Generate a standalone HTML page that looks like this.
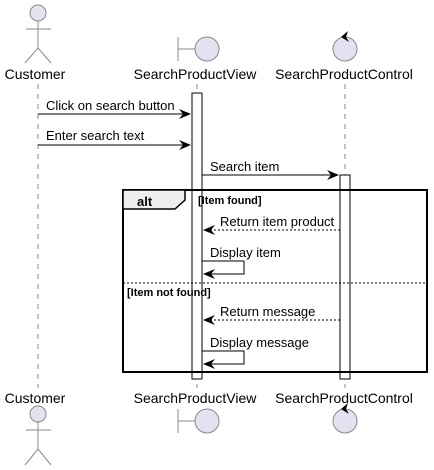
<!DOCTYPE html>
<html><head><meta charset="utf-8"><style>body{margin:0;background:#fff}svg{display:block}text{font-family:"Liberation Sans",sans-serif}</style></head><body>
<svg width="434" height="470" viewBox="0 0 434 470" xmlns="http://www.w3.org/2000/svg">
<g stroke="#888" stroke-width="1" stroke-dasharray="5,5">
<line x1="38" y1="84" x2="38" y2="388"/>
<line x1="197" y1="84" x2="197" y2="388"/>
<line x1="345" y1="84" x2="345" y2="388"/>
</g>
<!-- top participants -->
<g fill="#E2E2F0" stroke="#888" stroke-width="1">
<circle cx="38" cy="13" r="8"/>
<line x1="38" y1="21" x2="38" y2="48"/><line x1="26" y1="29" x2="51" y2="29"/>
<polyline points="25,63 38,48 51,63" fill="none"/>
<line x1="178" y1="37" x2="178" y2="61"/><line x1="178" y1="49" x2="195" y2="49"/>
<circle cx="207" cy="49" r="12"/>
<circle cx="345" cy="49" r="12"/>
<circle cx="38" cy="414" r="8"/>
<line x1="38" y1="422" x2="38" y2="449"/><line x1="26" y1="430" x2="51" y2="430"/>
<polyline points="25,465 38,449 51,465" fill="none"/>
<line x1="178" y1="409" x2="178" y2="433"/><line x1="178" y1="421" x2="195" y2="421"/>
<circle cx="207" cy="421" r="12"/>
<circle cx="345" cy="421" r="12"/>
</g>
<polygon points="341,37 348,31 346,37 349,42" fill="#000"/>
<polygon points="341,409 348,403 346,409 349,414" fill="#000"/>
<g font-size="14" fill="#000" text-anchor="middle">
<text x="35" y="79">Customer</text><text x="195" y="79">SearchProductView</text><text x="344" y="79">SearchProductControl</text>
<text x="35" y="403">Customer</text><text x="195" y="403">SearchProductView</text><text x="344" y="403">SearchProductControl</text>
</g>
<!-- activations -->
<rect x="192" y="93" width="10" height="286" fill="#fff" stroke="#000"/>
<rect x="340" y="175" width="10" height="204" fill="#fff" stroke="#000"/>
<!-- alt -->
<rect x="123" y="190" width="304" height="182" fill="none" stroke="#000" stroke-width="2"/>
<polygon points="123,190 185,190 185,200 175,209 123,209" fill="#EEE" stroke="#000" stroke-width="1.5"/>
<text x="137" y="206" font-size="13" font-weight="bold">alt</text>
<text x="198" y="204" font-size="11" font-weight="bold">[Item found]</text>
<line x1="123" y1="283" x2="427" y2="283" stroke="#000" stroke-dasharray="2,2"/>
<text x="127" y="296" font-size="11" font-weight="bold">[Item not found]</text>
<!-- messages -->
<g stroke="#000" fill="none">
<line x1="38" y1="114" x2="190" y2="114"/>
<line x1="38" y1="145" x2="190" y2="145"/>
<line x1="202" y1="175" x2="338" y2="175"/>
<line x1="340" y1="230" x2="204" y2="230" stroke-dasharray="2,2"/>
<polyline points="202,261 244,261 244,274 204,274"/>
<line x1="340" y1="320" x2="204" y2="320" stroke-dasharray="2,2"/>
<polyline points="202,351 244,351 244,364 204,364"/>
</g>
<g fill="#000">
<polygon points="191,114 179,109 183,114 179,119"/>
<polygon points="191,145 179,140 183,145 179,150"/>
<polygon points="339,175 327,170 331,175 327,180"/>
<polygon points="203,230 215,225 211,230 215,235"/>
<polygon points="203,274 215,269 211,274 215,279"/>
<polygon points="203,320 215,315 211,320 215,325"/>
<polygon points="203,364 215,359 211,364 215,369"/>
</g>
<g font-size="13" fill="#000">
<text x="46" y="110">Click on search button</text>
<text x="46" y="140">Enter search text</text>
<text x="210" y="171">Search item</text>
<text x="220" y="226">Return item product</text>
<text x="210" y="257">Display item</text>
<text x="220" y="316">Return message</text>
<text x="210" y="347">Display message</text>
</g>
</svg>
</body></html>
